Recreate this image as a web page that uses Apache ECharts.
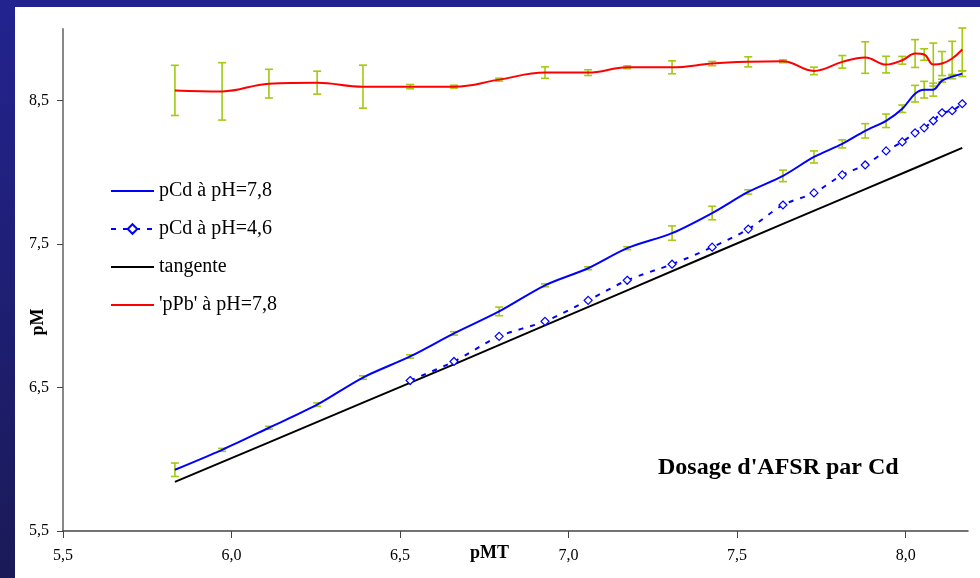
<!DOCTYPE html>
<html>
<head>
<meta charset="utf-8">
<script src="https://cdn.jsdelivr.net/npm/echarts@6/dist/echarts.min.js"></script>
<style>
html, body { margin: 0; padding: 0; background: #fff; }
#main { width: 980px; height: 578px; }
</style>
</head>
<body>
<div id="main"></div>
<script>
// shared abscissa (pMT) of the measured points
var pmt = [5.832, 5.972, 6.111, 6.254, 6.390, 6.530, 6.660, 6.794, 6.930, 7.058, 7.174, 7.307, 7.426,
	7.533, 7.636, 7.728, 7.812, 7.880, 7.942, 7.990, 8.028, 8.055, 8.082, 8.108, 8.138, 8.168];

// pCd a pH=7,8
var cd78Y = [5.927, 6.066, 6.220, 6.381, 6.570, 6.717, 6.878, 7.031, 7.213, 7.332, 7.472, 7.577, 7.717,
	7.864, 7.976, 8.108, 8.199, 8.290, 8.360, 8.444, 8.549, 8.577, 8.577, 8.640, 8.668, 8.689];
var cd78Err = [0.047, 0.01, 0.01, 0.012, 0.012, 0.012, 0.012, 0.03, 0.01, 0.01, 0.01, 0.05, 0.047,
	0.015, 0.04, 0.042, 0.028, 0.05, 0.047, 0.026, 0.058, 0.058, 0.045, 0.01, 0.015, 0.02];

// 'pPb' a pH=7,8
var pb78Y = [8.572, 8.565, 8.619, 8.626, 8.598, 8.598, 8.598, 8.647, 8.696, 8.696, 8.733, 8.733, 8.759,
	8.771, 8.775, 8.708, 8.771, 8.801, 8.752, 8.782, 8.829, 8.822, 8.752, 8.759, 8.794, 8.857];
var pb78Err = [0.175, 0.2, 0.1, 0.08, 0.15, 0.015, 0.01, 0.01, 0.04, 0.02, 0.01, 0.045, 0.015,
	0.035, 0.01, 0.026, 0.044, 0.11, 0.058, 0.027, 0.097, 0.04, 0.15, 0.084, 0.12, 0.15];

// pCd a pH=4,6
var cd46X = [6.530, 6.660, 6.794, 6.930, 7.058, 7.174, 7.307, 7.426, 7.533, 7.636, 7.728, 7.812, 7.880,
	7.942, 7.990, 8.028, 8.055, 8.082, 8.108, 8.138, 8.168];
var cd46Y = [6.549, 6.682, 6.857, 6.962, 7.108, 7.248, 7.360, 7.479, 7.605, 7.773, 7.857, 7.983, 8.052,
	8.150, 8.213, 8.276, 8.311, 8.360, 8.416, 8.430, 8.479];

// tangente
var tanX = [5.832, 6.111, 6.390, 6.660, 6.930, 7.174, 7.426, 7.636, 7.880, 8.028, 8.168];
var tanY = [5.843, 6.118, 6.395, 6.662, 6.934, 7.178, 7.431, 7.641, 7.884, 8.031, 8.171];

var xTicks = [5.5, 6.0, 6.5, 7.0, 7.5, 8.0];
var yTicks = [5.5, 6.5, 7.5, 8.5];
var names = ['pCd à pH=7,8', 'pCd à pH=4,6', 'tangente', "'pPb' à pH=7,8"];

var serif = 'Liberation Serif';
var errColor = '#a4c814';
var lineIcon = 'path://M0,0 L43,0 L43,2 L0,2 Z';

function pairs(xs, ys) {
	return xs.map(function (x, i) { return [x, ys[i]]; });
}
function triples(xs, ys, es) {
	return xs.map(function (x, i) { return [x, ys[i], es[i]]; });
}
function comma(v) {
	return v.toFixed(1).replace('.', ',');
}

function errorBars(params, api) {
	var x = api.value(0), y = api.value(1), e = api.value(2);
	var top = api.coord([x, y + e]);
	var bot = api.coord([x, y - e]);
	var st = { stroke: errColor, lineWidth: 1.6 };
	return {
		type: 'group',
		children: [
			{ type: 'line', shape: { x1: top[0], y1: top[1], x2: bot[0], y2: bot[1] }, style: st },
			{ type: 'line', shape: { x1: top[0] - 4, y1: top[1], x2: top[0] + 4, y2: top[1] }, style: st },
			{ type: 'line', shape: { x1: bot[0] - 4, y1: bot[1], x2: bot[0] + 4, y2: bot[1] }, style: st }
		]
	};
}

var chart = echarts.init(document.getElementById('main'));

var option = {
	backgroundColor: '#fff',
	animation: false,
	grid: { left: 63, right: 12, top: 29, bottom: 47 },
	legend: {
		orient: 'vertical',
		left: 105,
		top: 176,
		itemWidth: 43,
		itemHeight: 12,
		itemGap: 18,
		data: [
			{ name: names[0], icon: lineIcon },
			{ name: names[1] },
			{ name: names[2], icon: lineIcon },
			{ name: names[3], icon: lineIcon }
		],
		textStyle: { fontFamily: serif, fontSize: 20, color: '#000' }
	},
	graphic: [
		{ type: 'rect', left: 0, top: 0, shape: { width: 980, height: 7 }, style: { fill: '#232390' } },
		{
			type: 'rect', left: 0, top: 0, shape: { width: 15, height: 578 },
			style: {
				fill: new echarts.graphic.LinearGradient(0, 0, 0, 1, [
					{ offset: 0, color: '#232390' },
					{ offset: 1, color: '#1a1a58' }
				])
			}
		},
		{
			type: 'text', left: 658, top: 456,
			style: { text: "Dosage d'AFSR par Cd", font: 'bold 24px "Liberation Serif"', fill: '#000' }
		},
		{
			type: 'text', left: 470, top: 544,
			style: { text: 'pMT', font: 'bold 18px "Liberation Serif"', fill: '#000' }
		},
		{
			type: 'text', x: 38, y: 322, rotation: Math.PI / 2,
			style: {
				text: 'pM', font: 'bold 18px "Liberation Serif"', fill: '#000',
				align: 'center', verticalAlign: 'middle'
			}
		}
	],
	xAxis: {
		type: 'value',
		min: 5.5,
		max: 8.185,
		splitLine: { show: false },
		axisLine: { lineStyle: { color: '#444', width: 1.5 } },
		axisTick: { length: 7, customValues: xTicks, lineStyle: { color: '#444' } },
		axisLabel: {
			customValues: xTicks,
			margin: 17,
			fontFamily: serif,
			fontSize: 16,
			color: '#000',
			formatter: comma
		}
	},
	yAxis: {
		type: 'value',
		min: 5.5,
		max: 9.0,
		splitLine: { show: false },
		axisLine: { lineStyle: { color: '#888', width: 2 } },
		axisTick: { length: 6, customValues: yTicks, lineStyle: { color: '#444' } },
		axisLabel: {
			customValues: yTicks,
			margin: 14,
			fontFamily: serif,
			fontSize: 16,
			color: '#000',
			formatter: comma
		}
	},
	series: [
		{
			name: 'errCd',
			type: 'custom',
			renderItem: errorBars,
			clip: false,
			z: 1,
			data: triples(pmt, cd78Y, cd78Err)
		},
		{
			name: 'errPb',
			type: 'custom',
			renderItem: errorBars,
			clip: false,
			z: 1,
			data: triples(pmt, pb78Y, pb78Err)
		},
		{
			name: names[0],
			type: 'line',
			symbol: 'none',
			smooth: 0.3,
			z: 3,
			color: '#0000ff',
			lineStyle: { color: '#0000ff', width: 2 },
			data: pairs(pmt, cd78Y)
		},
		{
			name: names[1],
			type: 'line',
			symbol: 'diamond',
			symbolSize: 8,
			smooth: 0.3,
			z: 3,
			color: '#0000ff',
			itemStyle: { color: '#fff', borderColor: '#0000ff', borderWidth: 1.2 },
			lineStyle: { color: '#0000ff', width: 2, type: [5, 7] },
			data: pairs(cd46X, cd46Y)
		},
		{
			name: names[2],
			type: 'line',
			symbol: 'none',
			z: 2,
			color: '#000',
			lineStyle: { color: '#000', width: 2 },
			data: pairs(tanX, tanY)
		},
		{
			name: names[3],
			type: 'line',
			symbol: 'none',
			smooth: 0.4,
			z: 3,
			color: '#ff0000',
			lineStyle: { color: '#ff0000', width: 2 },
			data: pairs(pmt, pb78Y)
		}
	]
};

chart.setOption(option);
</script>
</body>
</html>
